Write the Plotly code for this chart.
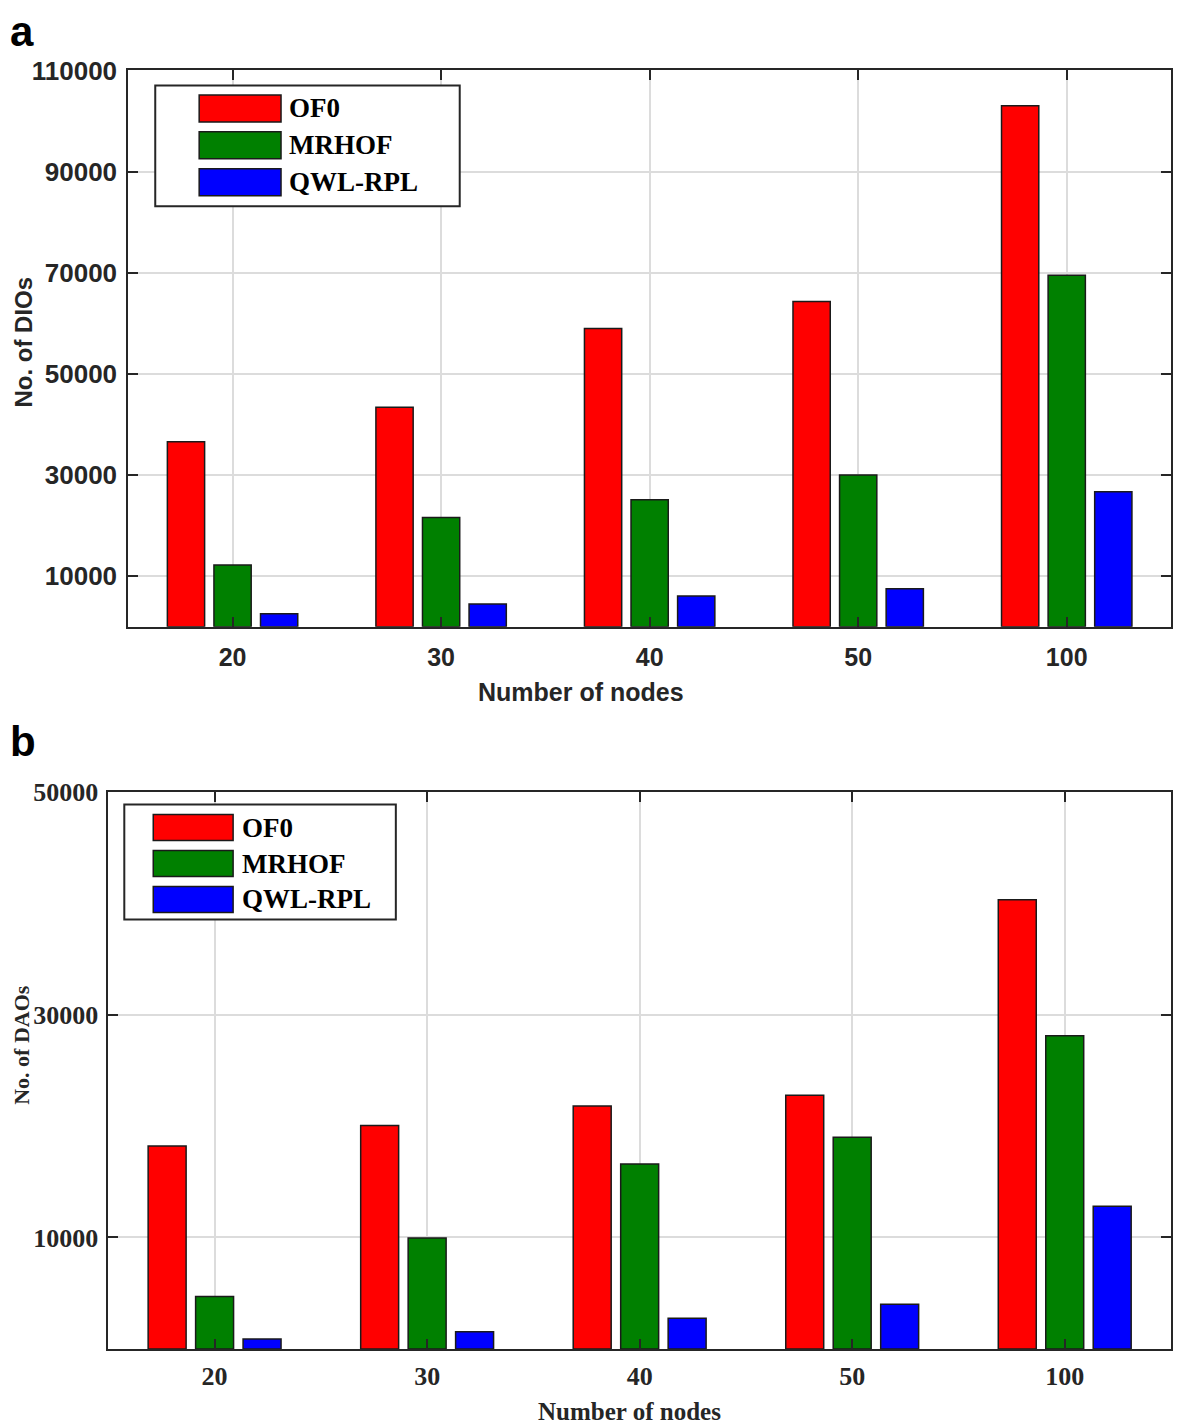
import plotly.graph_objects as go

# ---------------- data ----------------
nodes = ["20", "30", "40", "50", "100"]
series_names = ["OF0", "MRHOF", "QWL-RPL"]

dio_of0 = [36600, 43400, 59000, 64300, 103000]
dio_mrhof = [12200, 21600, 25100, 30000, 69500]
dio_qwl = [2600, 4500, 6100, 7500, 26700]

dao_of0 = [18200, 20050, 21800, 22750, 40300]
dao_mrhof = [4700, 9950, 16600, 19000, 28100]
dao_qwl = [900, 1550, 2750, 4000, 12800]

dio_ticks = [10000, 30000, 50000, 70000, 90000, 110000]
dao_ticks = [10000, 30000, 50000]

colors = ["#ff0000", "#008000", "#0000ff"]

# figure size and page-offset compensation (target screen px -> paper coords)
W, H = 1165, 1422
OX, OY, SY = 7.5, 21.5, 0.9906


def px(s):
    return min(1.0, max(0.0, (s - OX) / W))


def py(s):
    return 1 - (s - OY) / SY / H


def pyc(s):
    return min(1.0, max(0.0, py(s)))


SANS = "Liberation Sans, Arial, sans-serif"
SERIF = "Liberation Serif, Times New Roman, serif"
AXC = "#262626"

fig = go.Figure()

top_series = [dio_of0, dio_mrhof, dio_qwl]
bot_series = [dao_of0, dao_mrhof, dao_qwl]
for name, vals, col in zip(series_names, top_series, colors):
    fig.add_trace(go.Bar(x=nodes, y=vals, name=name, marker_color=col,
                         marker_line=dict(color="#1a1a1a", width=1.5),
                         xaxis="x", yaxis="y", showlegend=False))
for name, vals, col in zip(series_names, bot_series, colors):
    fig.add_trace(go.Bar(x=nodes, y=vals, name=name, marker_color=col,
                         marker_line=dict(color="#1a1a1a", width=1.5),
                         xaxis="x2", yaxis="y2", showlegend=False))

axis_common = dict(showline=True, linecolor=AXC, linewidth=2, mirror="ticks",
                   ticks="inside", ticklen=10, tickwidth=2, tickcolor=AXC,
                   showgrid=True, gridcolor="#dcdcdc", gridwidth=1.5,
                   zeroline=False)

fig.update_layout(
    width=W, height=H,
    margin=dict(l=0, r=0, t=0, b=0),
    paper_bgcolor="white", plot_bgcolor="white",
    barmode="group", bargap=0.33, bargroupgap=0.2,
    xaxis=dict(domain=[px(128), px(1176)], anchor="y", type="category",
               range=[-0.5, 4.5], ticklabelstandoff=7,
               tickfont=dict(family=SANS, size=25, color=AXC, weight="bold"),
               **axis_common),
    yaxis=dict(domain=[pyc(626), pyc(69)], anchor="x", range=[0, 110000],
               tickvals=dio_ticks, tickformat="d", ticklabelstandoff=4,
               tickfont=dict(family=SANS, size=26, color=AXC, weight="bold"),
               **axis_common),
    xaxis2=dict(domain=[px(108), px(1176)], anchor="y2", type="category",
                range=[-0.5, 4.5], ticklabelstandoff=3,
                tickfont=dict(family=SERIF, size=26, color=AXC, weight="bold"),
                **axis_common),
    yaxis2=dict(domain=[pyc(1349), pyc(791)], anchor="x2", range=[0, 50000],
                tickvals=dao_ticks, tickformat="d", ticklabelstandoff=3,
                tickfont=dict(family=SERIF, size=26, color=AXC, weight="bold"),
                **axis_common),
)

annotations = [
    dict(text="a", x=px(7.5), y=py(30), xanchor="left", yanchor="middle",
         font=dict(family=SANS, size=42, color="black", weight="bold")),
    dict(text="b", x=px(7.5), y=py(741), xanchor="left", yanchor="middle",
         font=dict(family=SANS, size=42, color="black", weight="bold")),
    dict(text="Number of nodes", x=px(581), y=py(691), xanchor="center", yanchor="middle",
         font=dict(family=SANS, size=25, color=AXC, weight="bold")),
    dict(text="No. of DIOs", x=px(23), y=py(341), xanchor="center", yanchor="middle",
         textangle=-90, font=dict(family=SANS, size=24, color=AXC, weight="bold")),
    dict(text="Number of nodes", x=px(630), y=py(1412), xanchor="center", yanchor="middle",
         font=dict(family=SERIF, size=25, color=AXC, weight="bold")),
    dict(text="No. of DAOs", x=px(21), y=py(1044), xanchor="center", yanchor="middle",
         textangle=-90, font=dict(family=SERIF, size=22, color=AXC, weight="bold")),
]

shapes = []
# custom legends drawn as boxes, swatches and labels
legends = [
    dict(box=(155, 84, 460, 205), sw_x=(199, 281), rows=[107, 144, 181], tx=287, h=27),
    dict(box=(124, 804, 396, 919), sw_x=(153, 233), rows=[827, 863, 899], tx=240, h=26),
]
for lg in legends:
    x0, y0, x1, y1 = lg["box"]
    shapes.append(dict(type="rect", xref="paper", yref="paper",
                       x0=px(x0), x1=px(x1), y0=py(y1), y1=py(y0),
                       line=dict(color=AXC, width=2), fillcolor="white", layer="above"))
    for name, col, cy in zip(series_names, colors, lg["rows"]):
        shapes.append(dict(type="rect", xref="paper", yref="paper",
                           x0=px(lg["sw_x"][0]), x1=px(lg["sw_x"][1]),
                           y0=py(cy + lg["h"] / 2), y1=py(cy - lg["h"] / 2),
                           line=dict(color="#1a1a1a", width=1.5), fillcolor=col, layer="above"))
        annotations.append(dict(text=name, x=px(lg["tx"]), y=py(cy), xanchor="left",
                                yanchor="middle",
                                font=dict(family=SERIF, size=27, color="black", weight="bold")))

for a in annotations:
    a.update(xref="paper", yref="paper", showarrow=False)

fig.update_layout(annotations=annotations, shapes=shapes)

fig.write_html("out.html")
